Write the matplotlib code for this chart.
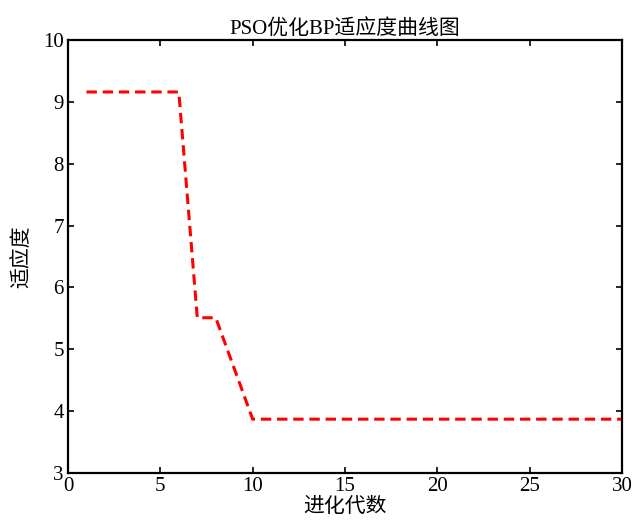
import numpy as np
import matplotlib.pyplot as plt

# fitness per generation
generations = list(range(1, 31))
fitness = [9.16, 9.16, 9.16, 9.16, 9.16, 9.16, 5.51, 5.51, 4.69, 3.87] + [3.87] * 20

title = "PSO优化BP适应度曲线图"
xlabel = "进化代数"
ylabel = "适应度"

serif_cjk = ["Liberation Serif", "Noto Sans CJK SC"]
plt.rcParams["font.family"] = serif_cjk

fig = plt.figure(figsize=(6.32, 5.27), dpi=100)
ax = fig.add_axes([0.1076, 0.1025, 0.8766, 0.8216])

ax.plot(generations, fitness, color="#ff0000", linestyle=(0, (3.4, 1.9)), linewidth=2.2)

ax.set_xlim(0, 30)
ax.set_ylim(3, 10)
ax.set_xticks(np.arange(0, 31, 5))
ax.set_yticks(np.arange(3, 11, 1))

ax.tick_params(direction="in", top=True, right=True, length=4, width=1.2,
               labelsize=15, colors="black", pad=3)
for s in ax.spines.values():
    s.set_linewidth(1.6)

ax.set_title(title, fontsize=15, pad=4, family=serif_cjk)
ax.set_xlabel(xlabel, fontsize=15, labelpad=-1, family=["Noto Sans CJK SC"])
ax.set_ylabel(ylabel, fontsize=15, labelpad=8, family=["Noto Sans CJK SC"])

fig.savefig("out.png", dpi=100)
